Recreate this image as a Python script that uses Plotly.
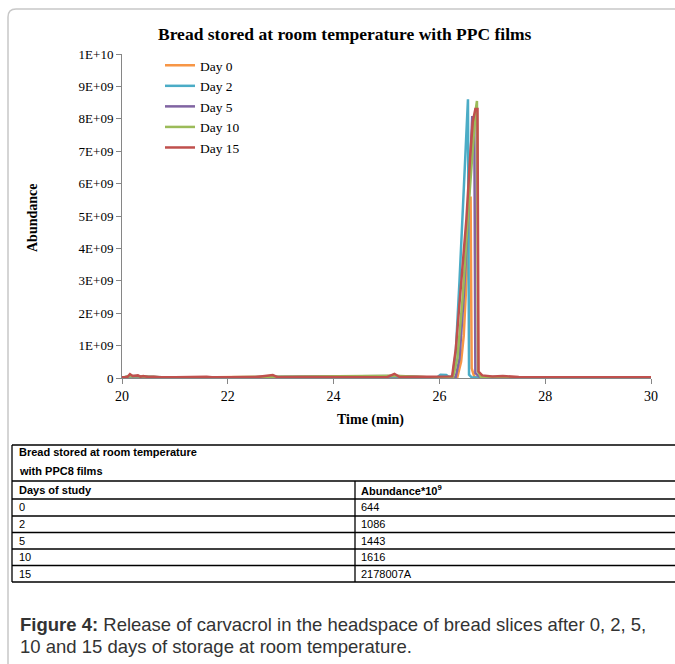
import plotly.graph_objects as go

W, H = 675, 664

# ---------------- data (abundance in units of 1E+09) ----------------
series_names = ["Day 0", "Day 2", "Day 5", "Day 10", "Day 15"]
series_colors = ["#F79646", "#4BACC6", "#8064A2", "#9BBB59", "#C0504D"]

day0_time = [20.0, 20.15, 20.3, 21.0, 22.85, 24.0, 25.15, 26.0, 26.34, 26.41, 26.46, 26.51, 26.56, 26.59, 26.61, 26.66, 27.0, 28.0, 30.0]
day0_abund = [0.01, 0.06, 0.02, 0.01, 0.04, 0.01, 0.06, 0.01, 0.03, 0.5, 1.3, 2.8, 4.5, 5.6, 0.3, 0.04, 0.02, 0.01, 0.01]

day2_time = [20.0, 20.15, 21.0, 22.85, 25.15, 25.95, 26.02, 26.13, 26.18, 26.25, 26.31, 26.38, 26.46, 26.51, 26.54, 26.56, 26.61, 27.0, 30.0]
day2_abund = [0.01, 0.05, 0.01, 0.03, 0.05, 0.01, 0.1, 0.09, 0.03, 0.05, 0.8, 3.0, 5.8, 7.5, 8.6, 0.1, 0.02, 0.01, 0.01]

day5_time = [20.0, 20.15, 21.0, 22.85, 25.15, 26.0, 26.31, 26.38, 26.46, 26.54, 26.59, 26.62, 26.66, 26.68, 26.76, 27.5, 30.0]
day5_abund = [0.01, 0.06, 0.01, 0.03, 0.06, 0.01, 0.04, 0.6, 2.5, 5.0, 7.0, 8.05, 8.05, 0.15, 0.04, 0.01, 0.01]

day10_time = [20.0, 20.15, 21.0, 22.85, 25.15, 26.0, 26.26, 26.34, 26.44, 26.54, 26.62, 26.68, 26.71, 26.73, 26.78, 27.5, 30.0]
day10_abund = [0.01, 0.06, 0.01, 0.03, 0.07, 0.01, 0.04, 0.6, 2.5, 5.0, 7.0, 8.2, 8.55, 0.2, 0.04, 0.01, 0.01]

day15_time = [20.0, 20.1, 20.15, 20.2, 20.3, 20.35, 20.4, 20.5, 20.6, 20.7, 21.0, 21.6, 21.7, 22.5, 22.85, 22.95,
              23.4, 24.0, 25.0, 25.15, 25.25, 25.8, 26.16, 26.24, 26.31, 26.41, 26.51, 26.58, 26.63, 26.68, 26.72,
              26.74, 26.81, 27.0, 27.2, 27.5, 28.0, 28.5, 29.0, 29.8, 30.0]
day15_abund = [0.02, 0.03, 0.12, 0.06, 0.08, 0.04, 0.06, 0.03, 0.04, 0.02, 0.02, 0.04, 0.02, 0.02, 0.09, 0.02,
               0.03, 0.02, 0.02, 0.13, 0.03, 0.04, 0.03, 0.05, 0.9, 2.8, 4.9, 6.8, 7.9, 8.3, 8.3,
               0.2, 0.08, 0.05, 0.06, 0.03, 0.03, 0.04, 0.03, 0.04, 0.02]

series_time = [day0_time, day2_time, day5_time, day10_time, day15_time]
series_abund = [day0_abund, day2_abund, day5_abund, day10_abund, day15_abund]

x_ticks = [20, 22, 24, 26, 28, 30]
y_tick_vals = [0, 1e9, 2e9, 3e9, 4e9, 5e9, 6e9, 7e9, 8e9, 9e9, 1e10]
y_tick_text = ["0", "1E+09", "2E+09", "3E+09", "4E+09", "5E+09", "6E+09", "7E+09", "8E+09", "9E+09", "1E+10"]

chart_title = "Bread stored at room temperature with PPC films"
x_title = "Time (min)"
y_title = "Abundance"

table_header_lines = ["Bread stored at room temperature", "with PPC8 films"]
table_col_heads = ["Days of study", "Abundance*10<sup>9</sup>"]
table_days = ["0", "2", "5", "10", "15"]
table_values = ["644", "1086", "1443", "1616", "2178007A"]

caption_line1 = "<b>Figure 4:</b> Release of carvacrol in the headspace of bread slices after 0, 2, 5,"
caption_line2 = "10 and 15 days of storage at room temperature."

# ---------------- helpers (pixel -> paper) ----------------
def px(x):
    return x / W

def py(y):
    return 1 - y / H

SERIF = "Liberation Serif, Times New Roman, serif"
SANS = "Liberation Sans, Arial, sans-serif"

fig = go.Figure()
for name, col, t, a in zip(series_names, series_colors, series_time, series_abund):
    fig.add_trace(go.Scatter(
        x=t, y=[v * 1e9 for v in a], mode="lines", name=name,
        line=dict(color=col, width=2.5), hoverinfo="skip"))

# plot area
x0p, x1p = 122, 651
y0p, y1p = 378, 54

fig.update_layout(
    template="none",
    width=W, height=H,
    margin=dict(l=0, r=0, t=0, b=0, pad=0, autoexpand=False),
    paper_bgcolor="white", plot_bgcolor="white",
    showlegend=True,
    legend=dict(x=px(160), y=py(50), xanchor="left", yanchor="top",
                font=dict(family=SERIF, size=13.5, color="black"),
                bgcolor="rgba(0,0,0,0)", itemwidth=30, tracegroupgap=0),
    xaxis=dict(domain=[px(x0p), px(x1p)], range=[20, 30], tickvals=x_ticks,
               ticks="outside", ticklen=5, tickcolor="#868686",
               showline=True, linecolor="#868686", linewidth=1,
               showgrid=False, zeroline=False, automargin=False,
               tickfont=dict(family=SERIF, size=14, color="black")),
    yaxis=dict(domain=[py(y0p), py(y1p)], range=[0, 1e10],
               tickvals=y_tick_vals, ticktext=y_tick_text,
               ticks="outside", ticklen=5, tickcolor="#868686",
               showline=True, linecolor="#868686", linewidth=1,
               showgrid=False, zeroline=False, automargin=False,
               tickfont=dict(family=SERIF, size=13, color="black")),
)

def note(text, x, y, font, xanchor="center", angle=0):
    return dict(text=text, x=px(x), y=py(y), xref="paper", yref="paper",
                xanchor=xanchor, yanchor="middle", showarrow=False,
                textangle=angle, font=font)

ann = []
ann.append(note("<b>" + chart_title + "</b>", 345, 34, dict(family=SERIF, size=17.5, color="black")))
ann.append(note("<b>" + x_title + "</b>", 370, 420, dict(family=SERIF, size=14, color="black")))
ann.append(note("<b>" + y_title + "</b>", 33, 218, dict(family=SERIF, size=14, color="black"), angle=-90))

shapes = []
# outer rounded border
L, T, R, B, r = 8, 9, 690, 680, 8
path = (f"M {px(L)},{py(B)} L {px(L)},{py(T + r)} Q {px(L)},{py(T)} {px(L + r)},{py(T)} "
        f"L {px(R)},{py(T)}")
shapes.append(dict(type="path", path=path, xref="paper", yref="paper",
                   line=dict(color="#c8c8c8", width=1.5)))

# table
tL, tR = 12, 676
colx = 355
hlines = [445, 481, 499, 516, 532.5, 549, 565.5, 582]
for yy in hlines:
    shapes.append(dict(type="line", xref="paper", yref="paper", x0=px(tL), x1=px(tR),
                       y0=py(yy), y1=py(yy), line=dict(color="black", width=1.3)))
shapes.append(dict(type="line", xref="paper", yref="paper", x0=px(tL), x1=px(tL),
                   y0=py(hlines[0]), y1=py(hlines[-1]), line=dict(color="black", width=1.3)))
shapes.append(dict(type="line", xref="paper", yref="paper", x0=px(colx), x1=px(colx),
                   y0=py(hlines[1]), y1=py(hlines[-1]), line=dict(color="black", width=1.3)))

tf_b = dict(family=SANS, size=11, color="black")
tf_n = dict(family=SANS, size=11, color="black")
ann.append(note("<b>" + table_header_lines[0] + "</b>", 17, 452, tf_b, "left"))
ann.append(note("<b>" + table_header_lines[1] + "</b>", 17, 471, tf_b, "left"))
ann.append(note("<b>" + table_col_heads[0] + "</b>", 17, 490, tf_b, "left"))
ann.append(note("<b>" + table_col_heads[1] + "</b>", 359, 490, tf_b, "left"))
for i, (d, v) in enumerate(zip(table_days, table_values)):
    yc = (hlines[2 + i] + hlines[3 + i]) / 2
    ann.append(note(d, 17, yc, tf_n, "left"))
    ann.append(note(v, 359, yc, tf_n, "left"))

# caption
cf = dict(family=SANS, size=18.5, color="#333333")
ann.append(note(caption_line1, 18, 624, cf, "left"))
ann.append(note(caption_line2, 18, 646, cf, "left"))

fig.update_layout(annotations=ann, shapes=shapes)
fig.write_html("out.html", config={"displayModeBar": False},
               post_script="document.body.style.margin='0px';")
